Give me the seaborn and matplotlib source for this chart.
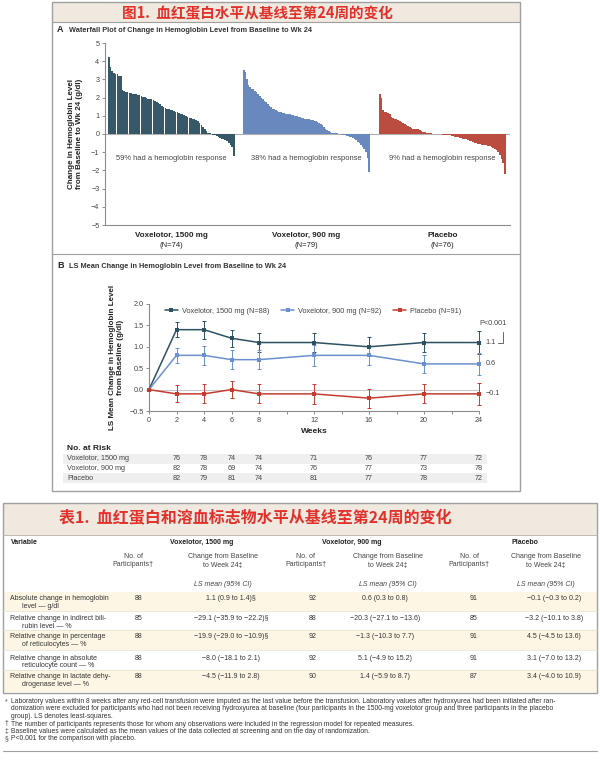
import pandas as pd
import numpy as np
import matplotlib
matplotlib.use("Agg")
import matplotlib.pyplot as plt
import seaborn as sns
from matplotlib.patches import Rectangle
from matplotlib.lines import Line2D
from matplotlib.transforms import blended_transform_factory

# ---------- data: waterfall (panel A) ----------
wf_groups = ["Voxelotor, 1500 mg", "Voxelotor, 900 mg", "Placebo"]
wf_n = ["(N=74)", "(N=79)", "(N=76)"]
wf_response = ["59% had a hemoglobin response", "38% had a hemoglobin response",
               "9% had a hemoglobin response"]
wf_1500 = [4.25, 3.7, 3.45, 3.35, 3.3, 3.3, 3.2, 3.2, 2.4, 2.35,
           2.3, 2.3, 2.25, 2.25, 2.2, 2.2, 2.2, 2.15, 2.15, 2.1,
           2.05, 2.05, 2.0, 1.95, 1.95, 1.9, 1.85, 1.8, 1.75, 1.7,
           1.65, 1.55, 1.5, 1.45, 1.4, 1.35, 1.3, 1.3, 1.25, 1.2,
           1.2, 1.15, 1.1, 1.1, 1.05, 1.0, 0.95, 0.9, 0.9, 0.85,
           0.8, 0.75, 0.7, 0.6, 0.5, 0.4, 0.3, 0.15, 0.08, 0.03,
           -0.02, -0.05, -0.08, -0.12, -0.15, -0.2, -0.25, -0.3, -0.35, -0.4,
           -0.5, -0.6, -0.7, -1.2]
wf_900 = [3.5, 3.4, 3.0, 2.7, 2.6, 2.5, 2.45, 2.35, 2.3, 2.2,
          2.1, 2.0, 1.9, 1.8, 1.75, 1.65, 1.55, 1.5, 1.4, 1.35,
          1.3, 1.25, 1.2, 1.2, 1.15, 1.15, 1.1, 1.1, 1.1, 1.1,
          1.05, 1.05, 1.0, 1.0, 0.95, 0.95, 0.9, 0.9, 0.85, 0.85,
          0.8, 0.8, 0.75, 0.75, 0.7, 0.7, 0.65, 0.6, 0.55, 0.5,
          0.4, 0.3, 0.2, 0.15, 0.1, 0.08, 0.06, 0.05, 0.03, 0.02,
          -0.02, -0.04, -0.06, -0.08, -0.1, -0.12, -0.15, -0.18, -0.22, -0.28,
          -0.35, -0.42, -0.5, -0.6, -0.7, -0.85, -1.0, -1.3, -2.1]
wf_placebo = [2.2, 2.0, 1.3, 1.2, 1.2, 1.15, 1.1, 0.95, 0.9, 0.85,
              0.8, 0.75, 0.7, 0.65, 0.6, 0.55, 0.5, 0.45, 0.4, 0.35,
              0.3, 0.3, 0.25, 0.25, 0.2, 0.15, 0.12, 0.1, 0.08, 0.06,
              0.04, 0.03, 0.02, 0.01, 0.01, 0.0, 0.0, -0.02, -0.03, -0.04,
              -0.05, -0.06, -0.08, -0.1, -0.12, -0.14, -0.16, -0.18, -0.2, -0.22,
              -0.25, -0.28, -0.3, -0.33, -0.36, -0.4, -0.45, -0.5, -0.52, -0.55,
              -0.56, -0.58, -0.6, -0.6, -0.62, -0.65, -0.68, -0.7, -0.75, -0.8,
              -0.9, -1.0, -1.15, -1.35, -1.6, -2.2]

# ---------- data: LS mean (panel B) ----------
weeks = [0, 2, 4, 6, 8, 12, 16, 20, 24]
ls_1500 = [0.0, 1.4, 1.4, 1.2, 1.1, 1.1, 1.0, 1.1, 1.1]
ci_1500 = [0.0, 0.18, 0.21, 0.2, 0.22, 0.23, 0.22, 0.22, 0.26]
ls_900 = [0.0, 0.8, 0.8, 0.7, 0.7, 0.8, 0.8, 0.6, 0.6]
ci_900 = [0.0, 0.18, 0.22, 0.22, 0.22, 0.25, 0.22, 0.22, 0.25]
ls_placebo = [0.0, -0.1, -0.1, 0.0, -0.1, -0.1, -0.2, -0.1, -0.1]
ci_placebo = [0.0, 0.2, 0.22, 0.2, 0.22, 0.23, 0.22, 0.22, 0.26]
ls_labels = ["Voxelotor, 1500 mg (N=88)", "Voxelotor, 900 mg (N=92)", "Placebo (N=91)"]
end_labels = ["1.1", "0.6", "\u22120.1"]

risk_weeks = [2, 4, 6, 8, 12, 16, 20, 24]
risk_names = ["Voxelotor, 1500 mg", "Voxelotor, 900 mg", "Placebo"]
risk_1500 = [76, 78, 74, 74, 71, 76, 77, 72]
risk_900 = [82, 78, 69, 74, 76, 77, 73, 78]
risk_placebo = [82, 79, 81, 74, 81, 77, 78, 72]

# ---------- data: table ----------
tab_vars = [("Absolute change in hemoglobin", "level \u2014 g/dl"),
            ("Relative change in indirect bili-", "rubin level \u2014 %"),
            ("Relative change in percentage", "of reticulocytes \u2014 %"),
            ("Relative change in absolute", "reticulocyte count \u2014 %"),
            ("Relative change in lactate dehy-", "drogenase level \u2014 %")]
tab_n_1500 = [88, 85, 88, 88, 88]
tab_ls_1500 = ["1.1 (0.9 to 1.4)\u00a7", "\u221229.1 (\u221235.9 to \u221222.2)\u00a7",
               "\u221219.9 (\u221229.0 to \u221210.9)\u00a7", "\u22128.0 (\u221218.1 to 2.1)",
               "\u22124.5 (\u221211.9 to 2.8)"]
tab_n_900 = [92, 88, 92, 92, 90]
tab_ls_900 = ["0.6 (0.3 to 0.8)", "\u221220.3 (\u221227.1 to \u221213.6)",
              "\u22121.3 (\u221210.3 to 7.7)", "5.1 (\u22124.9 to 15.2)",
              "1.4 (\u22125.9 to 8.7)"]
tab_n_placebo = [91, 85, 91, 91, 87]
tab_ls_placebo = ["\u22120.1 (\u22120.3 to 0.2)", "\u22123.2 (\u221210.1 to 3.8)",
                  "4.5 (\u22124.5 to 13.6)", "3.1 (\u22127.0 to 13.2)",
                  "3.4 (\u22124.0 to 10.9)"]
footnotes = [
    ("*", "Laboratory values within 8 weeks after any red-cell transfusion were imputed as the last value before the transfusion. Laboratory values after hydroxyurea had been initiated after ran-"),
    ("", "domization were excluded for participants who had not been receiving hydroxyurea at baseline (four participants in the 1500-mg voxelotor group and three participants in the placebo"),
    ("", "group). LS denotes least-squares."),
    ("\u2020", "The number of participants represents those for whom any observations were included in the regression model for repeated measures."),
    ("\u2021", "Baseline values were calculated as the mean values of the data collected at screening and on the day of randomization."),
    ("\u00a7", "P<0.001 for the comparison with placebo."),
]

C1, C2, C3 = "#2f5b70", "#5b86cc", "#cf3b2c"
L1, L2, L3 = "#2c5262", "#6b90cf", "#c43c30"
RED = "#e2302a"
GRAY = "#8c8c8c"

sns.set_theme(style="ticks")
plt.rcParams['font.family'] = ['Liberation Sans', 'DejaVu Sans']
CJK = ['Noto Sans CJK SC', 'DejaVu Sans']

W, H = 600, 770
fig = plt.figure(figsize=(6, 7.7), dpi=100)


def fx(x):
    return x / W


def fy(y):
    return 1 - y / H


def box(x0, y0, x1, y1, **kw):
    r = Rectangle((fx(x0), fy(y1)), (x1 - x0) / W, (y1 - y0) / H,
                  transform=fig.transFigure, **kw)
    fig.patches.append(r)


def hline(x0, x1, y, **kw):
    fig.add_artist(Line2D([fx(x0), fx(x1)], [fy(y), fy(y)], transform=fig.transFigure, **kw))


# ---------- figure 1 frame ----------
box(52, 2, 520, 22, facecolor="#efe9df", edgecolor="none", zorder=-1)
box(52, 2, 520, 491, fill=False, edgecolor="#a0a0a0", lw=1.0)
hline(52, 520, 22, color="#a0a0a0", lw=0.8)
hline(52, 520, 254, color="#a0a0a0", lw=0.8)
fig.text(fx(257), fy(13), "图1.  血红蛋白水平从基线至第24周的变化", family=CJK,
         fontsize=10.5, fontweight="bold", color=RED, ha="center", va="center")

# ---------- panel A: waterfall ----------
fig.text(fx(57), fy(30), "A", fontsize=6.5, fontweight="bold", color="#222", va="center")
fig.text(fx(69), fy(30), "Waterfall Plot of Change in Hemoglobin Level from Baseline to Wk 24",
         fontsize=5.3, fontweight="bold", color="#333", va="center")

axA = fig.add_axes([fx(105), fy(225), 405 / W, 182 / H])
starts = [0.0, 1.055, 2.117]
gw = 0.99
rows = []
for gi, vals in enumerate([wf_1500, wf_900, wf_placebo]):
    n = len(vals)
    for i, v in enumerate(vals):
        rows.append({"pos": starts[gi] + (i + 0.5) * gw / n, "change": v, "group": wf_groups[gi]})
df_wf = pd.DataFrame(rows)

axA.axhline(0, color="#b0b0b0", lw=0.8, zorder=0)
sns.barplot(data=df_wf, x="pos", y="change", hue="group", palette=[C1, C2, C3],
            native_scale=True, dodge=False, width=1.0, errorbar=None, linewidth=0,
            legend=False, ax=axA)
axA.set_xlim(-0.023, 3.14)
axA.set_ylim(-5, 5)
axA.set_yticks(range(-5, 6))
axA.set_yticklabels([str(t).replace("-", "\u2212") for t in range(-5, 6)])
axA.set_xticks([])
axA.set_xlabel("")
axA.set_ylabel("Change in Hemoglobin Level\nfrom Baseline to Wk 24 (g/dl)",
               fontsize=5.8, fontweight="bold", color="#222", linespacing=1.15)
axA.yaxis.set_label_coords(-0.055, 0.5)
for s in ["top", "right"]:
    axA.spines[s].set_visible(False)
for s in ["left", "bottom"]:
    axA.spines[s].set_color(GRAY)
    axA.spines[s].set_linewidth(0.8)
axA.tick_params(axis="y", length=2.5, width=0.7, color=GRAY, labelsize=5.2,
                labelcolor="#444", pad=1.5)
for gi in range(3):
    cx = starts[gi] + gw / 2
    axA.text(cx, -1.37, wf_response[gi], ha="center", va="center", fontsize=5.4, color="#444")
    axA.text(cx, -5.55, wf_groups[gi], ha="center", va="center", fontsize=5.8,
             fontweight="bold", color="#222", clip_on=False)
    axA.text(cx, -6.1, wf_n[gi], ha="center", va="center", fontsize=5.5,
             color="#222", clip_on=False)

# ---------- panel B: LS mean ----------
fig.text(fx(57), fy(266), "B", fontsize=6.5, fontweight="bold", color="#222", va="center")
fig.text(fx(69), fy(266), "LS Mean Change in Hemoglobin Level from Baseline to Wk 24",
         fontsize=5.3, fontweight="bold", color="#333", va="center")

axB = fig.add_axes([fx(149), fy(411), 330 / W, 107 / H])
df_ls = pd.DataFrame({
    "week": weeks * 3,
    "ls": ls_1500 + ls_900 + ls_placebo,
    "group": [ls_labels[0]] * 9 + [ls_labels[1]] * 9 + [ls_labels[2]] * 9,
})
axB.axhline(0, color="#c8c8c8", lw=0.8, zorder=0)
line_cols = [L1, L2, L3]
for gi, (ls, ci) in enumerate([(ls_1500, ci_1500), (ls_900, ci_900), (ls_placebo, ci_placebo)]):
    axB.errorbar(weeks, ls, yerr=ci, fmt="none", ecolor=line_cols[gi], elinewidth=0.7,
                 capsize=1.4, capthick=0.7, clip_on=False, zorder=2)
sns.lineplot(data=df_ls, x="week", y="ls", hue="group", palette=line_cols,
             marker="s", markersize=3.2, markeredgewidth=0, linewidth=1.1,
             legend=False, ax=axB, clip_on=False, zorder=3)
axB.set_xlim(0, 24)
axB.set_ylim(-0.5, 2.0)
axB.set_xticks(weeks)
axB.set_xticks([10, 14, 18, 22], minor=True)
axB.set_yticks([-0.5, 0.0, 0.5, 1.0, 1.5, 2.0])
axB.set_yticklabels(["\u22120.5", "0.0", "0.5", "1.0", "1.5", "2.0"])
axB.set_xlabel("Weeks", fontsize=6, fontweight="bold", color="#222", labelpad=3)
axB.set_ylabel("LS Mean Change in Hemoglobin Level\nfrom Baseline (g/dl)",
               fontsize=5.8, fontweight="bold", color="#222", linespacing=1.15)
axB.yaxis.set_label_coords(-0.075, 0.5)
for s in ["top", "right"]:
    axB.spines[s].set_visible(False)
for s in ["left", "bottom"]:
    axB.spines[s].set_color(GRAY)
    axB.spines[s].set_linewidth(0.8)
axB.tick_params(axis="both", which="both", length=2.5, width=0.7, color=GRAY,
                labelsize=5.2, labelcolor="#444", pad=1.5)

for lab, val in zip(end_labels, [ls_1500[-1], ls_900[-1], ls_placebo[-1]]):
    axB.text(24.5, val, lab, ha="left", va="center", fontsize=5.2, color="#444", clip_on=False)
axB.text(25.0, 1.55, "P<0.001", ha="center", va="center", fontsize=5.2, color="#444", clip_on=False)
axB.plot([25.4, 25.75, 25.75], [1.1, 1.1, 1.35], color="#666", lw=0.7, clip_on=False)

handles = [Line2D([], [], color=c, marker="s", markersize=3, markeredgewidth=0, lw=1.1)
           for c in line_cols]
fig.legend(handles, ls_labels, loc="center", bbox_to_anchor=(fx(313), fy(311)), ncol=3,
           frameon=False, fontsize=5.3, handlelength=1.8, handletextpad=0.5,
           columnspacing=1.6, labelcolor="#444")

# number at risk
fig.text(fx(67), fy(449), "No. at Risk", fontsize=6, fontweight="bold", color="#222", va="center")
trans = blended_transform_factory(axB.transData, fig.transFigure)
risk_y = [459, 468.5, 478]
for ri, (name, vals) in enumerate(zip(risk_names, [risk_1500, risk_900, risk_placebo])):
    if ri != 1:
        box(63, risk_y[ri] - 4.7, 487, risk_y[ri] + 4.7, facecolor="#efefef", edgecolor="none", zorder=-1)
    fig.text(fx(67), fy(risk_y[ri]), name, fontsize=5.2, color="#444", va="center")
    for w, v in zip(risk_weeks, vals):
        fig.text(w, fy(risk_y[ri]), str(v), transform=trans, ha="center", va="center",
                 fontsize=5.2, color="#444")

# ---------- table 1 ----------
box(3, 503, 597, 535, facecolor="#efe9df", edgecolor="none", zorder=-1)
for y0, y1 in [(592, 611), (630, 650), (670, 692)]:
    box(3, y0, 597, y1, facecolor="#fdf6e4", edgecolor="none", zorder=-1)
box(3, 503, 597, 693, fill=False, edgecolor="#a0a0a0", lw=1.0)
hline(3, 597, 535, color="#b5b0a6", lw=0.6)
for y in [611, 630, 650, 670]:
    hline(3, 597, y, color="#e6e0d2", lw=0.5)
fig.text(fx(255), fy(518), "表1.  血红蛋白和溶血标志物水平从基线至第24周的变化", family=CJK,
         fontsize=11.5, fontweight="bold", color=RED, ha="center", va="center")

fs = 5.0
fig.text(fx(11), fy(542), "Variable", fontsize=fs, fontweight="bold", color="#222", va="center")
for x, t in [(202, "Voxelotor, 1500 mg"), (352, "Voxelotor, 900 mg"), (525, "Placebo")]:
    fig.text(fx(x), fy(542), t, fontsize=fs, fontweight="bold", color="#222", ha="center", va="center")
for x in [133, 306, 469]:
    fig.text(fx(x), fy(561), "No. of\nParticipants\u2020", fontsize=fs, color="#444",
             ha="center", va="center", linespacing=1.2)
for x in [223, 388, 546]:
    fig.text(fx(x), fy(561), "Change from Baseline\nto Week 24\u2021", fontsize=fs, color="#444",
             ha="center", va="center", linespacing=1.2)
    fig.text(fx(x), fy(585), "LS mean (95% CI)", fontsize=fs, style="italic", color="#444",
             ha="center", va="center")

row_y = [599, 619, 637, 658, 677]
for ri in range(5):
    y = row_y[ri]
    fig.text(fx(10), fy(y), tab_vars[ri][0], fontsize=fs, color="#333", va="center")
    fig.text(fx(22), fy(y + 7.5), tab_vars[ri][1], fontsize=fs, color="#333", va="center")
    cols = [(139, str(tab_n_1500[ri])), (231, tab_ls_1500[ri]),
            (313, str(tab_n_900[ri])), (385, tab_ls_900[ri]),
            (474, str(tab_n_placebo[ri])), (554, tab_ls_placebo[ri])]
    for x, t in cols:
        fig.text(fx(x), fy(y), t, fontsize=fs, color="#333", ha="center", va="center")

# footnotes, aligned on a common baseline per line
foot_base = [703, 710.5, 718, 725.5, 733, 740.5]
for (mark, t), y in zip(footnotes, foot_base):
    if mark:
        fig.text(fx(5), fy(y), mark, fontsize=4.9, color="#444", va="baseline")
    fig.text(fx(11), fy(y), t, fontsize=4.9, color="#333", va="baseline")
hline(3, 597, 751, color="#a0a0a0", lw=0.8)

fig.savefig("out.png", dpi=100)
plt.close(fig)
